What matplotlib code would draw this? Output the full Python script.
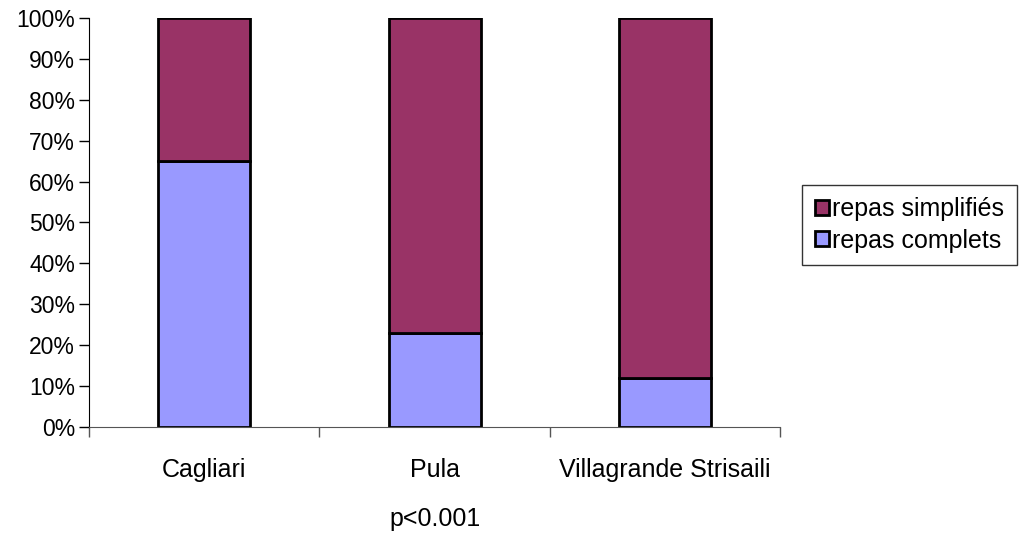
import matplotlib.pyplot as plt
from matplotlib.ticker import FixedLocator, PercentFormatter

plt.rcParams['font.family'] = ['Liberation Sans', 'DejaVu Sans']

# data
sites = ["Cagliari", "Pula", "Villagrande Strisaili"]
complets = [65, 23, 12]
simplifies = [35, 77, 88]
series_names = ["repas complets", "repas simplifiés"]
col_complets = "#9999FF"
col_simplifies = "#993366"

fs = 18
fs_y = 16.5

fig = plt.figure(figsize=(10.21, 5.34), dpi=100)
ax = fig.add_axes([0.0872, 0.2004, 0.6769, 0.7659])

x = list(range(len(sites)))
b1 = ax.bar(x, complets, width=0.4, color=col_complets, edgecolor="black",
            linewidth=2, label=series_names[0])
b2 = ax.bar(x, simplifies, width=0.4, bottom=complets, color=col_simplifies,
            edgecolor="black", linewidth=2, label=series_names[1])

ax.set_xlim(-0.5, len(sites) - 0.5)
ax.set_ylim(0, 100)
ax.yaxis.set_major_locator(FixedLocator(range(0, 101, 10)))
ax.yaxis.set_major_formatter(PercentFormatter(decimals=0))

# category labels without ticks, ticks between categories
ax.set_xticks(x)
ax.set_xticklabels(sites)
ax.tick_params(axis="x", which="major", length=0, pad=22, labelsize=fs)
ax.set_xticks([i - 0.5 for i in range(len(sites) + 1)], minor=True)
ax.tick_params(axis="x", which="minor", length=7, width=1, color="#555555")
ax.tick_params(axis="y", length=7, width=1, labelsize=fs_y, pad=3)

for s in ["top", "right"]:
    ax.spines[s].set_visible(False)
ax.spines["bottom"].set_color("#555555")
ax.spines["left"].set_color("black")

ax.text(1, -0.225, "p<0.001", transform=ax.get_xaxis_transform(),
        ha="center", va="center", fontsize=fs)

leg = ax.legend(handles=[b2, b1], loc="center left", bbox_to_anchor=(1.032, 0.494),
                fontsize=fs, frameon=True, fancybox=False, edgecolor="black",
                handlelength=0.55, handleheight=0.55, handletextpad=0.15,
                borderpad=0.5, labelspacing=0.3, borderaxespad=0)
leg.get_frame().set_linewidth(1)

fig.savefig("out.png", dpi=100)
